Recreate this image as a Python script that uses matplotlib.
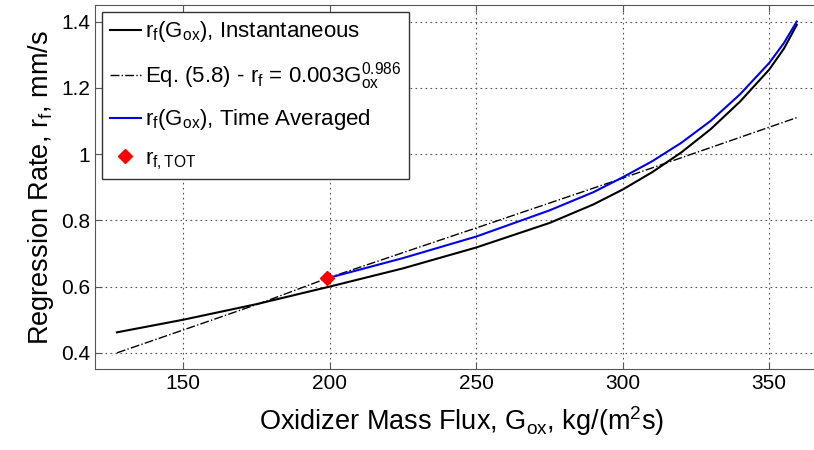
import numpy as np
import matplotlib
matplotlib.use("Agg")
import matplotlib.pyplot as plt

plt.rcParams['font.family'] = ['Liberation Sans', 'DejaVu Sans']
plt.rcParams['mathtext.fontset'] = 'custom'
plt.rcParams['mathtext.rm'] = 'Liberation Sans'
plt.rcParams['mathtext.it'] = 'Liberation Sans'
plt.rcParams['mathtext.default'] = 'regular'

# instantaneous regression rate
g_inst = [127.4, 150, 175, 200, 225, 250, 275, 290, 300, 310, 320, 330, 340, 350, 355, 359.4]
r_inst = [0.462, 0.500, 0.547, 0.600, 0.655, 0.718, 0.792, 0.848, 0.893, 0.945, 1.005,
          1.075, 1.158, 1.255, 1.318, 1.390]

# eq (5.8) fit
g_eq = [127.4, 150, 176.7, 199.1, 238.9, 250, 297.6, 359.4]
r_eq = [0.40, 0.469, 0.551, 0.625, 0.744, 0.777, 0.92, 1.11]

# time averaged
g_avg = [199.1, 225, 250, 275, 290, 300, 310, 320, 330, 340, 350, 355, 359.4]
r_avg = [0.625, 0.686, 0.751, 0.830, 0.885, 0.930, 0.978, 1.034, 1.100, 1.180, 1.275,
         1.335, 1.400]

# total
g_tot = [199.1]
r_tot = [0.625]

xticks = [150, 200, 250, 300, 350]
yticks = [0.4, 0.6, 0.8, 1.0, 1.2, 1.4]
yticklabels = ['0.4', '0.6', '0.8', '1', '1.2', '1.4']

fig = plt.figure(figsize=(8.14, 4.5), dpi=100)
ax = fig.add_axes([0.117, 0.179, 0.9, 0.81])

ax.plot(g_inst, r_inst, color='k', lw=1.5, label=r'r$_f$(G$_{ox}$), Instantaneous')
ax.plot(g_eq, r_eq, color='k', lw=1.0, ls='-.', label=r'Eq. (5.8) - r$_f$ = 0.003G$_{ox}^{0.986}$')
ax.plot(g_avg, r_avg, color='#0000ee', lw=1.5, label=r'r$_f$(G$_{ox}$), Time Averaged')
ax.plot(g_tot, r_tot, ls='none', marker='D', color='red', ms=7, label=r'r$_{f,TOT}$')

ax.set_xlim(120, 370)
ax.set_ylim(0.35, 1.45)
ax.set_xticks(xticks)
ax.set_yticks(yticks)
ax.set_yticklabels(yticklabels)
ax.tick_params(direction='in', top=True, right=True, labelsize=15, length=5, color='#555555')
ax.grid(True, ls=(0, (1.5, 3)), color='#555555', lw=0.8)
for s in ax.spines.values():
    s.set_color('#555555')

ax.set_xlabel(r'Oxidizer Mass Flux, G$_{ox}$, kg/(m$^2$s)', fontsize=19.5, labelpad=8)
ax.set_ylabel(r'Regression Rate, r$_f$, mm/s', fontsize=19.5)

leg = ax.legend(loc='upper left', fontsize=16, fancybox=False, edgecolor='#333333',
                handlelength=1.4, handletextpad=0.2, borderaxespad=0.3,
                labelspacing=0.7, borderpad=0.35, framealpha=1)
leg.get_frame().set_linewidth(1.0)

fig.savefig('out.png', dpi=100)
